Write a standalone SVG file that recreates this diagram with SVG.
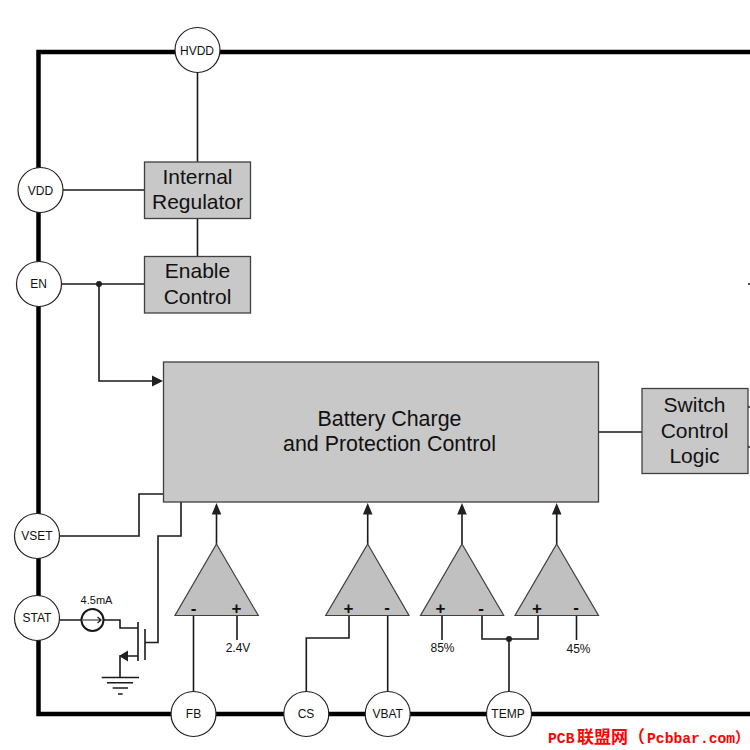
<svg xmlns="http://www.w3.org/2000/svg" width="750" height="750" viewBox="0 0 750 750">
<style>
.bus{fill:none;stroke:#000;stroke-width:4.5}
.w{fill:none;stroke:#1a1a1a;stroke-width:1.6}
.pin{fill:#fff;stroke:#231f20;stroke-width:1.2}
.box{fill:#c8c8c8;stroke:#404040;stroke-width:1.3}
.tri{fill:#c0c0c0;stroke:#404040;stroke-width:1.2}
.head{fill:#231f20}
text{font-family:"Liberation Sans",Arial,sans-serif;fill:#111;text-anchor:middle}
.p{font-size:12px}
.b{font-size:21px}
.m{font-size:21.400px}
.s{font-size:12px}
.sign{font-size:17px;font-weight:bold}
.wm{font-family:"Liberation Mono","Noto Sans CJK SC",monospace;font-size:14.700px;font-weight:bold;fill:#f00;text-anchor:start}
.wm .c{font-size:17px;font-family:"Noto Sans CJK SC",sans-serif}
.wm .e{font-size:14.700px;font-family:"Noto Sans CJK SC",sans-serif}
</style>
<rect width="750" height="750" fill="#fff"/>
<g id="connectors">
<path class="bus" d="M750 52H38.500V714H750"/>
<path class="w" d="M197.500 73V162M197.500 218V256M63 190H145M62 284H145M99 284V381H153"/>
<path class="head" d="M152 375.500L163 381L152 386.500Z"/>
<circle class="head" cx="99" cy="284" r="3"/>
<path class="w" d="M60 536H139V494H164M181 502V536H158V642.500H145"/>
<path class="w" d="M60 620H81.500M103.500 620H120V628H138M138 622V661M145 629V660M138 656H120V677.500M101.700 677.500H139M107 682.700H133M112.700 688H128M118 694H122.700"/>
<path class="head" d="M119 656L128 650.500V661.500Z"/>
<circle cx="92.500" cy="620" r="11" style="fill:#fff;stroke:#1a1a1a;stroke-width:2"/>
<path class="w" style="stroke-width:1.200" d="M83 620H101M97.500 617L101 620L97.500 623"/>
<path class="w" d="M216.500 544V512M367.700 544V512M462 544V512M556.700 544V512"/>
<path class="head" d="M216.500 503L221.300 514.500H211.700ZM367.700 503L372.500 514.500H362.900ZM462 503L466.800 514.500H457.200ZM556.700 503L561.500 514.500H551.900Z"/>
<path class="w" d="M193.500 615V691M237 615V640M306.300 691V638H349V615M387.700 691V615M442 615V640M482 615V639H538V615M509 639V691M576.500 615V640"/>
<circle class="head" cx="509" cy="639" r="3"/>
<path class="w" d="M598 432H642M747 407H750M747 447H750M748 284H750"/>
</g>
<g id="node-hvdd"><circle class="pin" cx="197.500" cy="50" r="22.500"/><text class="p" x="197" y="54.500">HVDD</text></g>
<g id="node-vdd"><circle class="pin" cx="40.500" cy="190" r="22.500"/><text class="p" x="40.500" y="194.500">VDD</text></g>
<g id="node-en"><circle class="pin" cx="39" cy="284" r="22.500"/><text class="p" x="38.500" y="288">EN</text></g>
<g id="node-vset"><circle class="pin" cx="37" cy="536" r="22.500"/><text class="p" x="37" y="540">VSET</text></g>
<g id="node-stat"><circle class="pin" cx="37" cy="618" r="22.500"/><text class="p" x="37" y="622">STAT</text></g>
<g id="node-fb"><circle class="pin" cx="193.500" cy="714" r="22.500"/><text class="p" x="193.500" y="718">FB</text></g>
<g id="node-cs"><circle class="pin" cx="306.300" cy="714" r="22.500"/><text class="p" x="306" y="718">CS</text></g>
<g id="node-vbat"><circle class="pin" cx="387.700" cy="714" r="22.500"/><text class="p" x="387.700" y="718">VBAT</text></g>
<g id="node-temp"><circle class="pin" cx="509" cy="714" r="22.500"/><text class="p" x="508" y="718">TEMP</text></g>
<g id="node-regulator"><rect class="box" x="144.500" y="162" width="106" height="56.500"/><text class="b" x="197.500" y="184">Internal</text><text class="b" x="197.500" y="209">Regulator</text></g>
<g id="node-enable"><rect class="box" x="144.500" y="256.500" width="106" height="56.500"/><text class="b" x="197.500" y="278">Enable</text><text class="b" x="197.500" y="304">Control</text></g>
<g id="node-main"><rect class="box" x="163.500" y="362" width="435" height="140"/><text class="m" x="389.500" y="426">Battery Charge</text><text class="m" x="389.500" y="451">and Protection Control</text></g>
<g id="node-switch"><rect class="box" x="642" y="388.500" width="106" height="85"/><text class="b" x="694.500" y="412">Switch</text><text class="b" x="694.500" y="438">Control</text><text class="b" x="694.500" y="463">Logic</text></g>
<g id="node-comp1"><path class="tri" d="M216.500 544L258.300 615.500H175Z"/><text class="sign" x="193.500" y="614">-</text><text class="sign" x="236.500" y="614">+</text></g>
<g id="node-comp2"><path class="tri" d="M367.700 544L409 615.500H325.700Z"/><text class="sign" x="348.500" y="614">+</text><text class="sign" x="387" y="613">-</text></g>
<g id="node-comp3"><path class="tri" d="M462 544L503.700 615.500H420.500Z"/><text class="sign" x="440.500" y="614">+</text><text class="sign" x="481" y="614">-</text></g>
<g id="node-comp4"><path class="tri" d="M556.700 544L598.500 615.500H515Z"/><text class="sign" x="537" y="614">+</text><text class="sign" x="576" y="613">-</text></g>
<text class="s" x="96.500" y="604" style="font-size:11px">4.5mA</text>
<text class="s" x="238" y="652">2.4V</text>
<text class="s" x="442.500" y="652">85%</text>
<text class="s" x="578.500" y="653">45%</text>
<text class="wm" x="548" y="742.500">PCB<tspan class="c" x="577">联盟网（</tspan><tspan x="647">Pcbbar.com</tspan><tspan class="e" x="735">）</tspan></text>
</svg>
